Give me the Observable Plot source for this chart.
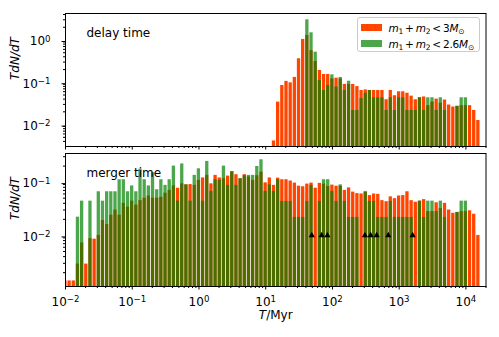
<!DOCTYPE html>
<html><head><meta charset="utf-8">
<script src="https://cdn.jsdelivr.net/npm/d3@7"></script>
<script src="https://cdn.jsdelivr.net/npm/@observablehq/plot@0.6"></script>
<style>
body{margin:0;background:#fff;}
#chart{position:relative;width:499px;height:337px;font-family:"DejaVu Sans",sans-serif;color:#000;}
#chart svg{position:absolute;left:0;overflow:visible;}
.legend{position:absolute;left:356.5px;top:17px;width:123.5px;height:35px;border:1px solid #cccccc;border-radius:3px;background:rgba(255,255,255,0.8);box-sizing:border-box;font-size:10.5px;}
.legend .row{position:absolute;left:0;height:14px;line-height:14px;white-space:nowrap;}
.legend .sw{position:absolute;left:3.5px;top:3.5px;width:21px;height:7px;}
.legend .lab{position:absolute;left:31px;top:0;letter-spacing:-0.2px;}
.legend i{font-style:italic;}
.legend sub{font-size:7.5px;vertical-align:-2px;line-height:0;}
.th{display:inline-block;width:2px;}
</style></head><body><div id="chart"></div>
<script>
// Log bins: 16 per decade, first bin centred on 10^-2 Myr
const binStartLog = -2;
const binsPerDecade = 16;

// Delay time panel (T dN/dT per bin), 100 bins
const delayOrange = [
 0,0,0,0,0,0,0,0,0,0, 0,0,0,0,0,0,0,0,0,0, 0,0,0,0,0,0,0,0,0,0,
 0,0,0,0,0,0,0,0,0,0, 0,0,0,0,0,0,0,0,0,0,
 0.0041,0.034,0.084,0.105,0.097,0.13,0.36,1.03,1.28,0.56,
 0.31,0.19,0.153,0.153,0.12,0.125,0.12,0.089,0.089,0.089,
 0.079,0.064,0.066,0.064,0.064,0.064,0.064,0.0386,0.064,0.048,
 0.0595,0.0595,0.055,0.047,0.0386,0.043,0.045,0.028,0.034,0.04,
 0.032,0.038,0.029,0.026,0.027,0.028,0.028,0.028,0.0216,0.0125];
const delayGreen = [
 0,0,0,0,0,0,0,0,0,0, 0,0,0,0,0,0,0,0,0,0, 0,0,0,0,0,0,0,0,0,0,
 0,0,0,0,0,0,0,0,0,0, 0,0,0,0,0,0,0,0,0,0,
 0,0,0,0,0,0,0,0,3.0,1.48,
 0.515,0.11,0.064,0.084,0.15,0.077,0.13,0.064,0.106,0.0216,
 0.0216,0.041,0.055,0.064,0.043,0.043,0.043,0.0216,0.043,0.0216,
 0.043,0.043,0.0216,0.0216,0.0216,0.043,0.0216,0.043,0.043,0.0216,
 0.043,0.0216,0,0,0.027,0.043,0.043,0,0,0];

// Merger time panel
const mergerOrange = [
 0.0014,0.0014,0.0014,0.0029,0.0072,0.0029,0.0087,0.0085,0.010,0.019,
 0.016,0.024,0.030,0.024,0.040,0.034,0.044,0.037,0.045,0.050,
 0.055,0.050,0.050,0.052,0.062,0.070,0.085,0.077,0.093,0.089,
 0.090,0.087,0.108,0.12,0.134,0.093,0.134,0.12,0.116,0.13,
 0.157,0.138,0.116,0.138,0.125,0.108,0.132,0.154,0.097,0.12,
 0.087,0.119,0.111,0.111,0.105,0.096,0.084,0.082,0.092,0.096,
 0.077,0.095,0.092,0.083,0.088,0.084,0.084,0.07,0.078,0.065,
 0.061,0.06,0.064,0.056,0.06,0.059,0.045,0.043,0.053,0.049,
 0.055,0.056,0.066,0.045,0.042,0.044,0.047,0.028,0.028,0.041,
 0.032,0.040,0.030,0.026,0.027,0.028,0.028,0.029,0.025,0.010];
const mergerGreen = [
 0,0,0,0.022,0.044,0,0.044,0,0.066,0.044,
 0.066,0.066,0.066,0.111,0.111,0.066,0.085,0.066,0.175,0.111,
 0.085,0.15,0.072,0.111,0.087,0.111,0.2,0.044,0.22,0.089,
 0.044,0.134,0.178,0.044,0.245,0.067,0.111,0.108,0.2,0.087,
 0.157,0.087,0.116,0.132,0.134,0.134,0.197,0.263,0.067,0.089,
 0.067,0.111,0.0435,0.0435,0.0435,0.0218,0.0218,0.0218,0.0435,0.087,
 0,0.0435,0.111,0.111,0.067,0.0435,0.089,0.0435,0.0218,0.0218,
 0.0218,0,0.067,0.0435,0.0435,0.0218,0.0218,0.0218,0.0435,0.0218,
 0.0218,0.0218,0.0218,0.0218,0,0.044,0.0218,0.044,0.044,0.028,
 0.044,0.0218,0,0,0.027,0.044,0.044,0,0,0];

// Observed systems (black triangles), merger time in Myr
const markerTimes = [49, 69, 84, 307, 374, 460, 686, 1590];
const markerLevel = 0.01;

// Axis ticks
const xMajor = [1e-2, 1e-1, 1e0, 1e1, 1e2, 1e3, 1e4];
const yMajorTop = [1e-2, 1e-1, 1e0];
const yMajorBottom = [1e-2, 1e-1];
const xDomain = [0.01, 2e4];
const yDomainTop = [0.00303, 4.23];
const yDomainBottom = [0.0011, 0.345];

const orangeColor = "#ff4500";
const greenColor = "#008000";
const greenOpacity = 0.7;
const fs = 12;

function minors(lo, hi) {
  const out = [];
  for (let e = Math.floor(Math.log10(lo)); e <= Math.ceil(Math.log10(hi)); e++)
    for (let m = 2; m <= 9; m++) { const v = m * 10 ** e; if (v >= lo && v <= hi) out.push(v); }
  return out;
}
// "10^e" placeholders, turned into real superscripts after rendering
const pow = d => "10^" + Math.round(Math.log10(d));

function bars(values, color, opacity, y0) {
  const rows = values.map((v, k) => ({k, v})).filter(d => d.v > 0);
  return Plot.rect(rows, {
    x1: d => 10 ** (binStartLog + (d.k - 0.41) / binsPerDecade),
    x2: d => 10 ** (binStartLog + (d.k + 0.38) / binsPerDecade),
    y1: () => y0, y2: "v", fill: color, fillOpacity: opacity, clip: true
  });
}

function panel({orange, green, yDomain, yMajor, height, marginTop, marginBottom, title, bottom}) {
  const marks = [
    bars(orange, orangeColor, 1, yDomain[0]),
    bars(green, greenColor, greenOpacity, yDomain[0]),
    Plot.axisX({ticks: xMajor, tickSize: 3.5, tickPadding: 7.5, tickFormat: bottom ? pow : () => "", label: null, fontSize: fs}),
    Plot.axisX({ticks: minors(xDomain[0], xDomain[1]), tickSize: 2, tickFormat: () => "", label: null}),
    Plot.axisY({ticks: yMajor, tickSize: 3.5, tickPadding: 11.5, tickFormat: pow, label: null, dy: 1.5, fontSize: fs}),
    Plot.axisY({ticks: minors(yDomain[0], yDomain[1]), tickSize: 2, tickFormat: () => "", label: null}),
    Plot.frame({stroke: "black", strokeWidth: 1}),
    Plot.text([title], {text: d => d, frameAnchor: "top-left", dx: 21, dy: 14.7, textAnchor: "start", fontSize: fs}),
    Plot.text(["TdN/dT"], {text: d => d, frameAnchor: "left", dx: -50, rotate: -90, fontStyle: "italic", fontSize: fs})
  ];
  if (bottom) {
    marks.push(Plot.dot(markerTimes, {x: d => d, y: () => markerLevel, symbol: "triangle", r: 2.3, fill: "black", stroke: "none"}));
    marks.push(Plot.text(["T/Myr"], {text: d => d, frameAnchor: "bottom", dy: 32, fontSize: fs}));
  }
  return Plot.plot({
    width: 499, height, marginLeft: 65, marginRight: 13.5, marginTop, marginBottom,
    x: {type: "log", domain: xDomain},
    y: {type: "log", domain: yDomain},
    style: {fontFamily: "DejaVu Sans", fontSize: fs + "px", color: "black", background: "transparent", overflow: "visible"},
    marks
  });
}

const chart = document.getElementById("chart");
const top1 = panel({orange: delayOrange, green: delayGreen, yDomain: yDomainTop, yMajor: yMajorTop, height: 150, marginTop: 13, marginBottom: 4, title: "delay time", bottom: false});
top1.style.top = "0px";
const bot = panel({orange: mergerOrange, green: mergerGreen, yDomain: yDomainBottom, yMajor: yMajorBottom, height: 187, marginTop: 3, marginBottom: 51, title: "merger time", bottom: true});
bot.style.top = "150px";
chart.appendChild(top1);
chart.appendChild(bot);

// real superscripts for tick labels
d3.selectAll([top1, bot]).selectAll("text").each(function() {
  const m = /^10\^(-?\d+)$/.exec(this.textContent);
  if (!m) return;
  const t = d3.select(this); t.text("");
  t.append("tspan").text("10");
  t.append("tspan").attr("dy", "-0.42em").attr("font-size", "8.6px").text(m[1].replace("-", "\u2212"));
});

// italic T in x label
d3.select(bot).selectAll("text").filter(function() { return this.textContent === "T/Myr"; }).each(function() {
  const t = d3.select(this); t.text("");
  t.append("tspan").attr("font-style", "italic").text("T");
  t.append("tspan").text("/Myr");
});

// legend
const legend = document.createElement("div");
legend.className = "legend";
legend.innerHTML =
  `<div class="row" style="top:2.5px;width:120px"><div class="sw" style="background:${orangeColor}"></div>` +
  `<div class="lab"><i>m</i><sub>1</sub><span class="th"></span>+<span class="th"></span><i>m</i><sub>2</sub><span class="th"></span>&lt;<span class="th"></span>3<i>M</i><sub>\u2299</sub></div></div>` +
  `<div class="row" style="top:18.5px;width:120px"><div class="sw" style="background:${greenColor};opacity:${greenOpacity}"></div>` +
  `<div class="lab"><i>m</i><sub>1</sub><span class="th"></span>+<span class="th"></span><i>m</i><sub>2</sub><span class="th"></span>&lt;<span class="th"></span>2.6<i>M</i><sub>\u2299</sub></div></div>`;
chart.appendChild(legend);
</script>
</body></html>
